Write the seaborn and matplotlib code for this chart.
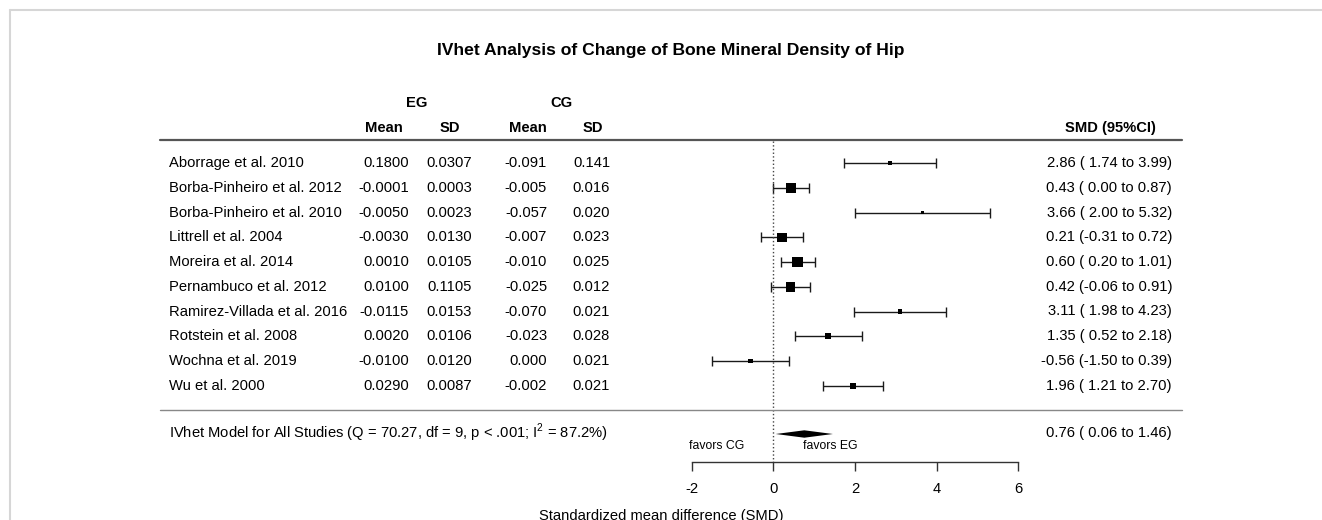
import numpy as np
import pandas as pd
import matplotlib
matplotlib.use('Agg')
import matplotlib.pyplot as plt
import seaborn as sns
from matplotlib.lines import Line2D

# Data
studies = ['Aborrage et al. 2010', 'Borba-Pinheiro et al. 2012', 'Borba-Pinheiro et al. 2010',
           'Littrell et al. 2004', 'Moreira et al. 2014', 'Pernambuco et al. 2012',
           'Ramirez-Villada et al. 2016', 'Rotstein et al. 2008', 'Wochna et al. 2019',
           'Wu et al. 2000']
eg_mean = [0.1800, -0.0001, -0.0050, -0.0030, 0.0010, 0.0100, -0.0115, 0.0020, -0.0100, 0.0290]
eg_sd = [0.0307, 0.0003, 0.0023, 0.0130, 0.0105, 0.1105, 0.0153, 0.0106, 0.0120, 0.0087]
cg_mean = [-0.091, -0.005, -0.057, -0.007, -0.010, -0.025, -0.070, -0.023, 0.000, -0.002]
cg_sd = [0.141, 0.016, 0.020, 0.023, 0.025, 0.012, 0.021, 0.028, 0.021, 0.021]
smd = [2.86, 0.43, 3.66, 0.21, 0.60, 0.42, 3.11, 1.35, -0.56, 1.96]
ci_lo = [1.74, 0.00, 2.00, -0.31, 0.20, -0.06, 1.98, 0.52, -1.50, 1.21]
ci_hi = [3.99, 0.87, 5.32, 0.72, 1.01, 0.91, 4.23, 2.18, 0.39, 2.70]
# relative weights
weight = [2.5, 19.9, 1.7, 17.4, 20.8, 17.4, 3.7, 6.5, 3.7, 6.5]

pooled_est, pooled_lo, pooled_hi = 0.76, 0.06, 1.46
model_text = r'IVhet Model for All Studies (Q = 70.27, df = 9, p < .001; I$^2$ = 87.2%)'
title = 'IVhet Analysis of Change of Bone Mineral Density of Hip'
x_ticks = [-2, 0, 2, 4, 6]

df = pd.DataFrame({'study': studies, 'eg_mean': eg_mean, 'eg_sd': eg_sd,
                   'cg_mean': cg_mean, 'cg_sd': cg_sd, 'smd': smd,
                   'lo': ci_lo, 'hi': ci_hi, 'weight': weight})
df['row'] = np.arange(len(df))

sns.set_theme(style='white')
plt.rcParams['font.family'] = ['Liberation Sans', 'DejaVu Sans']
plt.rcParams['axes.unicode_minus'] = False
plt.rcParams['mathtext.fontset'] = 'custom'
plt.rcParams['mathtext.rm'] = 'Liberation Sans'
plt.rcParams['text.color'] = 'black'

W, H = 1322, 520
fig = plt.figure(figsize=(W / 100, H / 100), dpi=100)
ax = fig.add_axes([0, 0, 1, 1])
ax.patch.set_alpha(0)

# pixel mapping: SMD 0 at x=773, 40.8 px per unit; rows start at y=163, 24.7 px apart
x0, ux = 773.3, 40.8
y0, uy = 163.3, 24.7
fs = 10.6

def fx(p):
    return p / W

def ry(p):
    return (p - y0) / uy

# CIs and boxes
ax.errorbar(df['smd'], df['row'], xerr=[df['smd'] - df['lo'], df['hi'] - df['smd']],
            fmt='none', ecolor='#1a1a1a', elinewidth=1.0, capsize=3.4, capthick=1.0, zorder=2)
sns.scatterplot(data=df, x='smd', y='row', size='weight', sizes=(5, 58), marker='s',
                color='black', edgecolor='none', linewidth=0, legend=False, ax=ax, zorder=3)

# pooled diamond
pr = ry(434)
dh = 0.15
ax.fill([pooled_lo, pooled_est, pooled_hi, pooled_est], [pr, pr - dh, pr, pr + dh],
        color='black', lw=0, zorder=3)

# no-effect line
ax.vlines(0, ry(141), ry(462), colors='#444444', linestyles=':', lw=1.0)

# separators
ax.axhline(ry(140), xmin=fx(160), xmax=fx(1182), color='#555555', lw=1.6)
ax.axhline(ry(410), xmin=fx(160), xmax=fx(1182), color='#888888', lw=1.0)

tr = ax.get_yaxis_transform()

# table body
for _, r in df.iterrows():
    y = r['row']
    ax.text(fx(169), y, r['study'], ha='left', va='center', fontsize=fs, transform=tr)
    ax.text(fx(409), y, f"{r['eg_mean']:.4f}", ha='right', va='center', fontsize=fs, transform=tr)
    ax.text(fx(472), y, f"{r['eg_sd']:.4f}", ha='right', va='center', fontsize=fs, transform=tr)
    ax.text(fx(547), y, f"{r['cg_mean']:.3f}", ha='right', va='center', fontsize=fs, transform=tr)
    ax.text(fx(610), y, f"{r['cg_sd']:.3f}", ha='right', va='center', fontsize=fs, transform=tr)
    ax.text(fx(1172), y, f"{r['smd']:.2f} ({r['lo']:5.2f} to {r['hi']:.2f})",
            ha='right', va='center', fontsize=fs, transform=tr)

ax.text(fx(169), ry(433), model_text, ha='left', va='center', fontsize=fs, transform=tr)
ax.text(fx(1172), ry(433), f"{pooled_est:.2f} ({pooled_lo:5.2f} to {pooled_hi:.2f})",
        ha='right', va='center', fontsize=fs, transform=tr)

# headers
hy = ry(128)
for xp, lab in [(384, 'Mean'), (450, 'SD'), (528, 'Mean'), (593, 'SD'), (1110, 'SMD (95%CI)')]:
    ax.text(fx(xp), hy, lab, ha='center', va='center', fontsize=fs, fontweight='bold', transform=tr)
for xp, lab in [(417, 'EG'), (561, 'CG')]:
    ax.text(fx(xp), ry(103), lab, ha='center', va='center', fontsize=fs, fontweight='bold', transform=tr)
ax.text(fx(671), ry(50), title, ha='center', va='center', fontsize=12.6, fontweight='bold', transform=tr)

# favours labels
ax.text(-1.4, ry(446), 'favors CG', ha='center', va='center', fontsize=8.8)
ax.text(1.39, ry(446), 'favors EG', ha='center', va='center', fontsize=8.8)

# x axis
ax.spines[['left', 'right', 'top']].set_visible(False)
ax.spines['bottom'].set_position(('data', ry(462)))
ax.spines['bottom'].set_bounds(x_ticks[0], x_ticks[-1])
ax.spines['bottom'].set_color('#333333')
ax.spines['bottom'].set_linewidth(1.0)
ax.set_xticks(x_ticks)
ax.set_yticks([])
ax.tick_params(axis='x', bottom=True, direction='out', length=6.5, width=1.0,
               color='#333333', labelcolor='black', labelsize=fs, pad=8)
ax.set_xlabel('Standardized mean difference (SMD)', fontsize=fs, color='black', labelpad=9)
ax.set_ylabel('')
ax.grid(False)

ax.set_xlim(-x0 / ux, (W - x0) / ux)
ax.set_ylim(ry(H), ry(0))

# light frame at top and left
fig.add_artist(Line2D([fx(10), 1], [1 - 10 / H, 1 - 10 / H], color='#d6d6d6', lw=1.5,
                      transform=fig.transFigure))
fig.add_artist(Line2D([fx(10), fx(10)], [0, 1 - 10 / H], color='#d6d6d6', lw=1.5,
                      transform=fig.transFigure))

fig.savefig('out.png', dpi=100)
